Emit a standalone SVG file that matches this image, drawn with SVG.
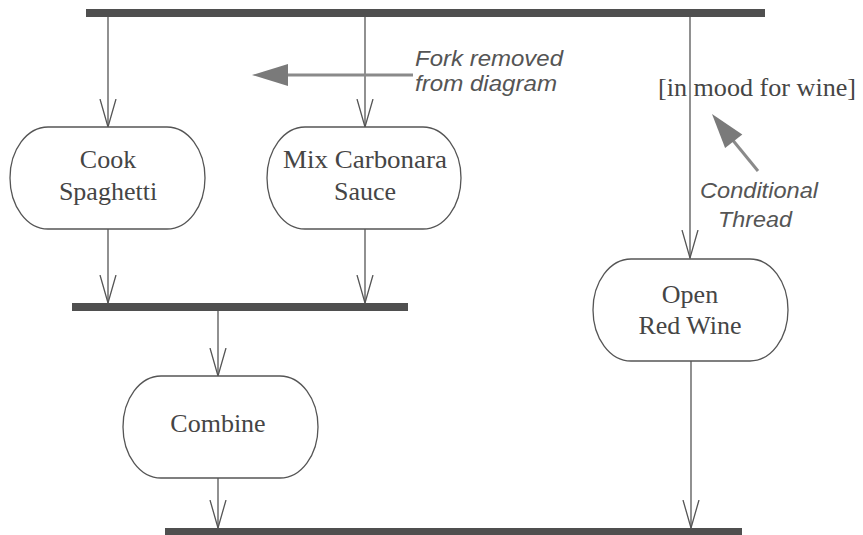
<svg xmlns="http://www.w3.org/2000/svg" width="863" height="535" viewBox="0 0 863 535">
<defs>
<style>
.bar{fill:#4f4f4f}
.node rect{fill:#fff;stroke:#555;stroke-width:1.3}
.lbl{font-family:"Liberation Serif","Times New Roman",serif;font-size:26px;fill:#454545;text-anchor:middle}
.note{font-family:"Liberation Sans",Arial,sans-serif;font-size:22px;font-style:italic;fill:#555}
.conn line{stroke:#555;stroke-width:1.3;marker-end:url(#v)}
.ann{stroke:#8a8a8a;stroke-width:3;fill:none}
.annh{fill:#7a7a7a}
</style>
<marker id="v" markerUnits="userSpaceOnUse" markerWidth="30" markerHeight="18" refX="28" refY="9" orient="auto" viewBox="0 0 30 18">
<path d="M0,1 L28,9 L0,17" fill="none" stroke="#555" stroke-width="1.3"/>
</marker>
</defs>
<rect width="863" height="535" fill="#fff"/>

<g id="fork-top"><rect class="bar" x="86" y="9" width="679" height="8"/></g>
<g id="join-mid"><rect class="bar" x="72" y="303" width="336" height="8"/></g>
<g id="join-bottom"><rect class="bar" x="165" y="528" width="577" height="8"/></g>

<g class="conn" id="connectors">
<line x1="108" y1="17" x2="108" y2="127"/>
<line x1="365" y1="17" x2="365" y2="127"/>
<line x1="690" y1="17" x2="690" y2="258"/>
<line x1="108" y1="229" x2="108" y2="303"/>
<line x1="365" y1="229" x2="365" y2="303"/>
<line x1="218" y1="311" x2="218" y2="376"/>
<line x1="218" y1="478" x2="218" y2="528"/>
<line x1="691" y1="361" x2="691" y2="528"/>
</g>

<g id="cook" class="node">
<rect x="10" y="127" width="195" height="102" rx="38" ry="51"/>
<text class="lbl" x="108" y="168">Cook</text>
<text class="lbl" x="108" y="200">Spaghetti</text>
</g>
<g id="mix" class="node">
<rect x="267" y="127" width="194" height="102" rx="38" ry="51"/>
<text class="lbl" x="365" y="168" textLength="164" lengthAdjust="spacingAndGlyphs">Mix Carbonara</text>
<text class="lbl" x="365" y="200">Sauce</text>
</g>
<g id="combine" class="node">
<rect x="123" y="376" width="195" height="102" rx="38" ry="51"/>
<text class="lbl" x="218" y="432">Combine</text>
</g>
<g id="wine" class="node">
<rect x="593" y="259" width="195" height="102" rx="38" ry="51"/>
<text class="lbl" x="690" y="303">Open</text>
<text class="lbl" x="690" y="334">Red Wine</text>
</g>

<g id="guard">
<text class="lbl" x="757" y="96" textLength="198" lengthAdjust="spacingAndGlyphs">[in mood for wine]</text>
</g>

<g id="note-fork">
<line class="ann" x1="413" y1="75" x2="286" y2="75"/>
<polygon class="annh" points="252,75 288,64 288,86"/>
<text class="note" x="415" y="66" textLength="148" lengthAdjust="spacingAndGlyphs">Fork removed</text>
<text class="note" x="415" y="91" textLength="142" lengthAdjust="spacingAndGlyphs">from diagram</text>
</g>
<g id="note-cond">
<line class="ann" x1="758" y1="171" x2="731" y2="138"/>
<polygon class="annh" points="712,114 742.3,134.5 725.1,148.1"/>
<text class="note" x="700" y="198" textLength="118" lengthAdjust="spacingAndGlyphs">Conditional</text>
<text class="note" x="718" y="227" textLength="74" lengthAdjust="spacingAndGlyphs">Thread</text>
</g>
</svg>
